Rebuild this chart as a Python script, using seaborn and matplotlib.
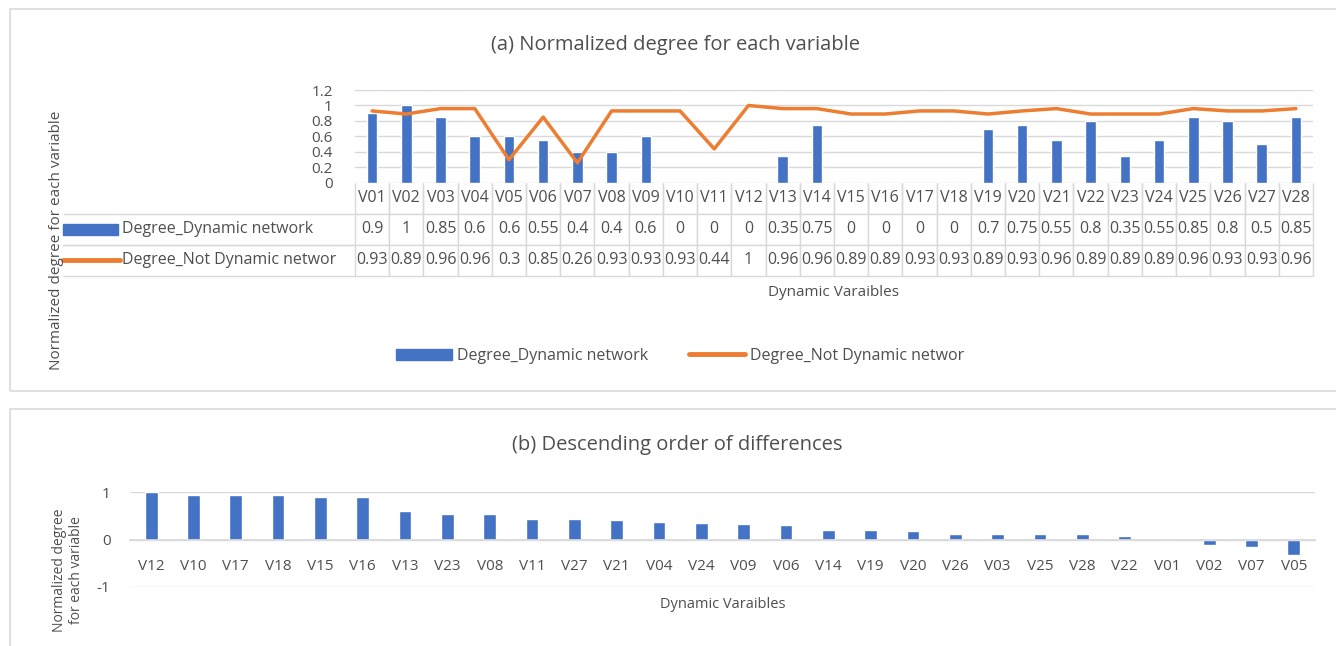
import matplotlib

matplotlib.use("Agg")
import matplotlib.pyplot as plt
from matplotlib.patches import Rectangle
from matplotlib.lines import Line2D
import seaborn as sns
import pandas as pd

# data
variables = ["V01", "V02", "V03", "V04", "V05", "V06", "V07", "V08", "V09", "V10",
             "V11", "V12", "V13", "V14", "V15", "V16", "V17", "V18", "V19", "V20",
             "V21", "V22", "V23", "V24", "V25", "V26", "V27", "V28"]
degree_dynamic = [0.9, 1, 0.85, 0.6, 0.6, 0.55, 0.4, 0.4, 0.6, 0,
                  0, 0, 0.35, 0.75, 0, 0, 0, 0, 0.7, 0.75,
                  0.55, 0.8, 0.35, 0.55, 0.85, 0.8, 0.5, 0.85]
degree_not_dynamic = [0.93, 0.89, 0.96, 0.96, 0.3, 0.85, 0.26, 0.93, 0.93, 0.93,
                      0.44, 1, 0.96, 0.96, 0.89, 0.89, 0.93, 0.93, 0.89, 0.93,
                      0.96, 0.89, 0.89, 0.89, 0.96, 0.93, 0.93, 0.96]

diff_order = ["V12", "V10", "V17", "V18", "V15", "V16", "V13", "V23", "V08", "V11",
              "V27", "V21", "V04", "V24", "V09", "V06", "V14", "V19", "V20", "V26",
              "V03", "V25", "V28", "V22", "V01", "V02", "V07", "V05"]
diff_values = [1.0, 0.93, 0.93, 0.93, 0.89, 0.89, 0.61, 0.54, 0.53, 0.44,
               0.43, 0.41, 0.36, 0.34, 0.33, 0.30, 0.21, 0.19, 0.18, 0.12,
               0.11, 0.11, 0.11, 0.07, 0.0, -0.12, -0.16, -0.33]

label_dyn = "Degree_Dynamic network"
label_not = "Degree_Not Dynamic networ"

BLUE = "#4472C4"
ORANGE = "#ED7D31"
GRID = "#D9D9D9"
TXT = "#4F4F4F"

W, H = 1336, 646


def fx(px):
    return px / W


def fy(py):
    return 1 - py / H


sns.set_theme(style="white")
plt.rcParams["font.family"] = ["Open Sans", "DejaVu Sans"]

fig = plt.figure(figsize=(W / 100, H / 100), dpi=100)

# panel frames
fig.add_artist(Rectangle((fx(10), fy(391)), fx(1340) - fx(10), (391 - 9) / H,
                         transform=fig.transFigure, fill=False, ec=GRID, lw=1.2))
fig.add_artist(Rectangle((fx(10), fy(660)), fx(1340) - fx(10), (660 - 409) / H,
                         transform=fig.transFigure, fill=False, ec=GRID, lw=1.2))

# ---------------- panel (a) ----------------
ax_l, ax_r, ax_t, ax_b = 355, 1313, 90, 183
ax_a = fig.add_axes([fx(ax_l), fy(ax_b), (ax_r - ax_l) / W, (ax_b - ax_t) / H])
df_a = pd.DataFrame({"var": variables, "dyn": degree_dynamic, "notdyn": degree_not_dynamic})
sns.barplot(data=df_a, x="var", y="dyn", color=BLUE, width=0.31, saturation=1, ax=ax_a, zorder=2)
sns.lineplot(data=df_a, x="var", y="notdyn", color=ORANGE, lw=2.5, sort=False, ax=ax_a, zorder=3)
ax_a.set_xlim(-0.5, len(variables) - 0.5)
ax_a.set_ylim(0, 1.2)
ax_a.set_yticks([0, 0.2, 0.4, 0.6, 0.8, 1, 1.2])
ax_a.set_yticklabels(["0", "0.2", "0.4", "0.6", "0.8", "1", "1.2"])
ax_a.yaxis.grid(True, color=GRID, lw=1)
ax_a.set_axisbelow(True)
for s in ax_a.spines.values():
    s.set_visible(False)
ax_a.set_xticks([])
ax_a.tick_params(axis="y", length=0, pad=16, labelsize=11, labelcolor=TXT)
ax_a.set_xlabel("")
ax_a.set_ylabel("")

# data table under panel (a)
axw = ax_r - ax_l
lab_left = 63
x_left = (lab_left - ax_l) / axw
tab_w = (ax_r - lab_left) / axw
cell_w = 1.0 / len(variables)
lab_w = (ax_l - lab_left) / axw
rows = [[""] + variables,
        [""] + [f"{v:g}" for v in degree_dynamic],
        [""] + [f"{v:g}" for v in degree_not_dynamic]]
tab = ax_a.table(cellText=rows, colWidths=[lab_w] + [cell_w] * len(variables),
                 bbox=[x_left, -1.0, tab_w, 1.0], cellLoc="center")
tab.auto_set_font_size(False)
tab.set_fontsize(11.5)
for (r, c), cell in tab.get_celld().items():
    cell.set_edgecolor(GRID)
    cell.set_linewidth(1)
    cell.get_text().set_color(TXT)
    if c == 0:
        cell.visible_edges = "" if r == 0 else "TB"
    elif r == 0:
        cell.visible_edges = "LRB"
    else:
        cell.visible_edges = "closed"

# row labels with legend keys
key_w = (118 - lab_left) / axw
txt_x = (122 - ax_l) / axw
for row, lab in [(1, label_dyn), (2, label_not)]:
    yc = -(row + 0.5) / 3
    ax_a.text(txt_x, yc, lab, transform=ax_a.transAxes, ha="left", va="center",
              fontsize=11.5, color=TXT)
    if row == 1:
        ax_a.add_patch(Rectangle((x_left, yc - 0.055), key_w, 0.11, transform=ax_a.transAxes,
                                 color=BLUE, clip_on=False))
    else:
        ax_a.add_line(Line2D([x_left, x_left + key_w + 0.002], [yc, yc], transform=ax_a.transAxes,
                             color=ORANGE, lw=3.5, clip_on=False))

fig.text(fx(675), fy(45), "(a) Normalized degree for each variable", ha="center", va="center",
         fontsize=14.5, color=TXT)
fig.text(fx((ax_l + ax_r) / 2), fy(293), "Dynamic Varaibles", ha="center", va="center",
         fontsize=11, color=TXT)
fig.text(fx(57), fy(240), "Normalized degree for each variable", rotation=90,
         ha="center", va="center", fontsize=11, color=TXT)

handles = [Rectangle((0, 0), 1, 1, color=BLUE), Line2D([0], [0], color=ORANGE, lw=3.5)]
fig.legend(handles, [label_dyn, label_not], loc="center", bbox_to_anchor=(fx(680), fy(356)),
           ncol=2, frameon=False, fontsize=11.5, handlelength=3.5, handletextpad=0.3,
           columnspacing=2.6, labelcolor=TXT)

# ---------------- panel (b) ----------------
bx_l, bx_r, bx_t, bx_b = 130, 1315, 492, 587
ax_b = fig.add_axes([fx(bx_l), fy(bx_b), (bx_r - bx_l) / W, (bx_b - bx_t) / H])
df_b = pd.DataFrame({"var": diff_order, "diff": diff_values})
sns.barplot(data=df_b, x="var", y="diff", color=BLUE, width=0.3, saturation=1, ax=ax_b, zorder=2)
ax_b.set_xlim(-0.5, len(diff_order) - 0.5)
ax_b.set_ylim(-1, 1)
ax_b.set_yticks([-1, 0, 1])
ax_b.set_yticklabels(["-1", "0", "1"])
ax_b.yaxis.grid(True, color=GRID, lw=1)
ax_b.set_axisbelow(True)
for s in ["top", "left", "right"]:
    ax_b.spines[s].set_visible(False)
ax_b.spines["bottom"].set_position(("data", 0))
ax_b.spines["bottom"].set_color(GRID)
ax_b.tick_params(axis="x", length=0, pad=14, labelsize=11, labelcolor=TXT)
ax_b.tick_params(axis="y", length=0, pad=14, labelsize=11, labelcolor=TXT)
ax_b.set_xlabel("")
ax_b.set_ylabel("")

fig.text(fx(677), fy(445), "(b) Descending order of differences", ha="center", va="center",
         fontsize=14.5, color=TXT)
fig.text(fx((bx_l + bx_r) / 2), fy(605), "Dynamic Varaibles", ha="center", va="center",
         fontsize=10.5, color=TXT)
fig.text(fx(68), fy(570), "Normalized degree\nfor each variable", rotation=90,
         ha="center", va="center", fontsize=10, color=TXT, linespacing=1.1)

fig.savefig("out.png", dpi=100)
